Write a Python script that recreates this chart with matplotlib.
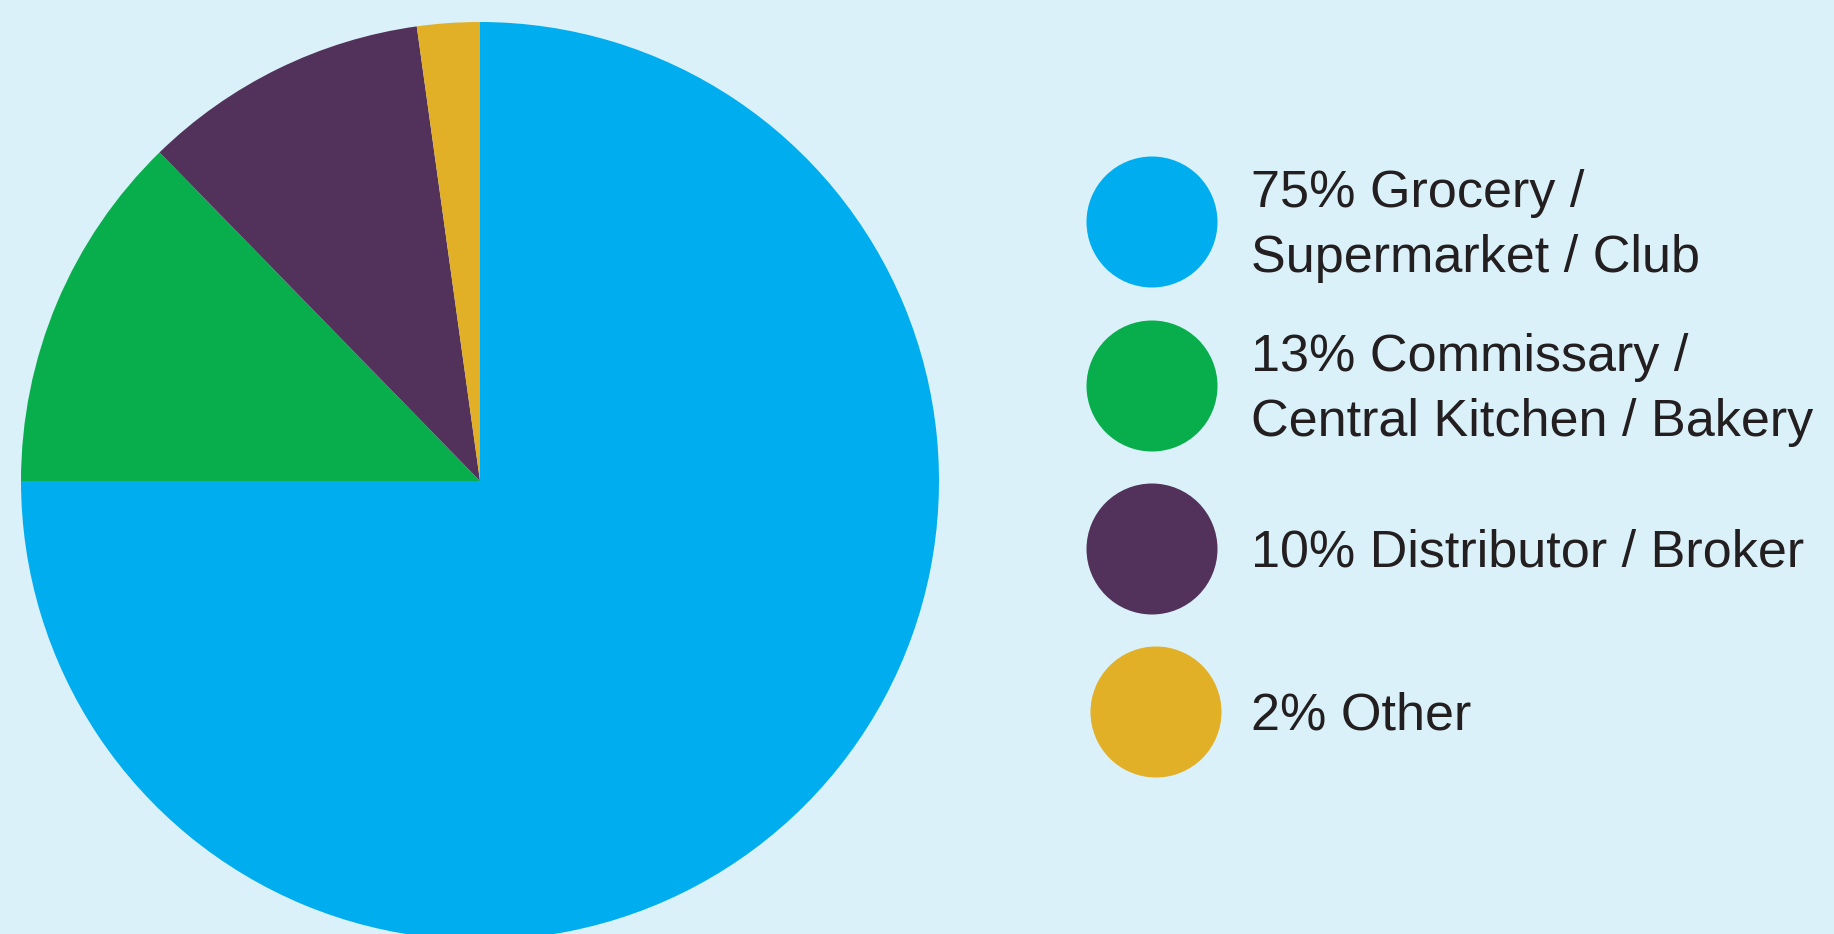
import matplotlib.pyplot as plt
from matplotlib.patches import Circle

# data
labels = ['75% Grocery /\nSupermarket / Club',
          '13% Commissary /\nCentral Kitchen / Bakery',
          '10% Distributor / Broker',
          '2% Other']
shares = [75, 12.7, 10.1, 2.2]
colors = ['#00AEEF', '#08AE4B', '#52325A', '#E2B027']

bg = '#DBF1F9'
W, H = 1834, 934

fig = plt.figure(figsize=(W / 100, H / 100), dpi=100, facecolor=bg)
ax = fig.add_axes([0, 0, 1, 1])
ax.set_facecolor(bg)

# pie, drawn in pixel-like data coords
ax.pie(shares, colors=colors, startangle=90, counterclock=False,
       center=(480, H - 481), radius=459, wedgeprops={'linewidth': 0})

# legend: circles + labels
legend_y = [222, 386, 549, 712]
legend_x = [1152, 1152, 1152, 1156]
for lab, col, lx, ly in zip(labels, colors, legend_x, legend_y):
    ax.add_patch(Circle((lx, H - ly), 65.5, color=col, lw=0))
    ax.text(1251, H - ly - 4, lab, fontsize=37.5, family=['Liberation Sans', 'DejaVu Sans'],
            color='#231F20', va='center', ha='left', linespacing=1.42)

ax.set_xlim(0, W)
ax.set_ylim(0, H)
ax.set_aspect('equal')
ax.axis('off')

fig.savefig('out.png', dpi=100, facecolor=bg)
